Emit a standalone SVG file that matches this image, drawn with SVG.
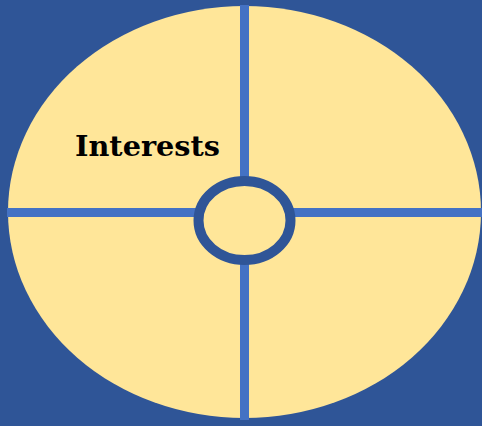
<svg xmlns="http://www.w3.org/2000/svg" width="482" height="426" viewBox="0 0 482 426">
  <style>
    .axis { stroke: #4472C4; stroke-width: 9; fill: none; }
    .label { font-family: "DejaVu Serif", "Liberation Serif", serif; font-weight: bold; font-size: 28px; fill: #000000; }
  </style>
  <rect x="0" y="0" width="482" height="426" fill="#2F5597"/>
  <g id="outer">
    <ellipse cx="244.5" cy="212" rx="236.5" ry="206" fill="#FFE699"/>
  </g>
  <g id="connectors">
    <line class="axis" x1="244.5" y1="5" x2="244.5" y2="420"/>
    <line class="axis" x1="7" y1="212.5" x2="482" y2="212.5"/>
  </g>
  <g id="center">
    <ellipse cx="244.5" cy="220.5" rx="46" ry="39.5" fill="#FFE699" stroke="#2F5597" stroke-width="10"/>
  </g>
  <g id="interests">
    <text class="label" x="75" y="156" textLength="145" lengthAdjust="spacingAndGlyphs">Interests</text>
  </g>
</svg>
